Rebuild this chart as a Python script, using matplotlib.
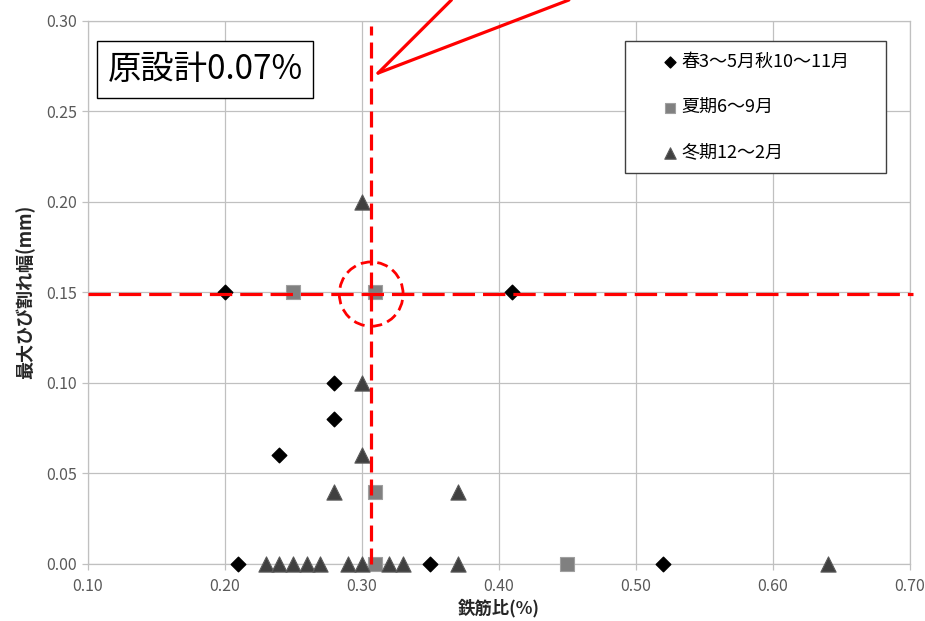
import matplotlib
matplotlib.use("Agg")
import matplotlib.pyplot as plt
from matplotlib.patches import Ellipse, Rectangle
from matplotlib.ticker import FormatStrFormatter

plt.rcParams['font.family'] = ['Noto Sans CJK JP', 'DejaVu Sans']

# 春3～5月秋10～11月
haru_aki_x = [0.20, 0.41, 0.28, 0.28, 0.24, 0.21, 0.35, 0.52]
haru_aki_y = [0.15, 0.15, 0.10, 0.08, 0.06, 0.00, 0.00, 0.00]
# 夏期6～9月
natsu_x = [0.25, 0.31, 0.31, 0.31, 0.45]
natsu_y = [0.15, 0.15, 0.04, 0.00, 0.00]
# 冬期12～2月
fuyu_x = [0.30, 0.30, 0.30, 0.28, 0.37, 0.23, 0.24, 0.25, 0.26, 0.27,
          0.29, 0.30, 0.32, 0.33, 0.37, 0.64]
fuyu_y = [0.20, 0.10, 0.06, 0.04, 0.04, 0.00, 0.00, 0.00, 0.00, 0.00,
          0.00, 0.00, 0.00, 0.00, 0.00, 0.00]

labels = ['春3～5月秋10～11月', '夏期6～9月', '冬期12～2月']

# 基準線
ref_x = 0.307
ref_y = 0.149

grid_c = '#c0c0c0'
tick_c = '#595959'

fig = plt.figure(figsize=(9.25, 6.21), dpi=100)
ax = fig.add_axes([0.0946, 0.0918, 0.889, 0.8751])

ax.scatter(haru_aki_x, haru_aki_y, marker='D', s=55, color='black', zorder=4,
           clip_on=False, label=labels[0])
ax.scatter(natsu_x, natsu_y, marker='s', s=90, color='#808080', edgecolors='#a0a0a0',
           linewidths=0.8, zorder=4, clip_on=False, label=labels[1])
ax.scatter(fuyu_x, fuyu_y, marker='^', s=120, color='#404040', edgecolors='#5a5a5a',
           linewidths=0.8, zorder=5, clip_on=False, label=labels[2])

ax.set_xlim(0.10, 0.70)
ax.set_ylim(0.00, 0.30)
ax.set_xticks([0.10, 0.20, 0.30, 0.40, 0.50, 0.60, 0.70])
ax.set_yticks([0.00, 0.05, 0.10, 0.15, 0.20, 0.25, 0.30])
ax.xaxis.set_major_formatter(FormatStrFormatter('%.2f'))
ax.yaxis.set_major_formatter(FormatStrFormatter('%.2f'))
ax.grid(True, color=grid_c, linewidth=0.9, zorder=0)
ax.set_axisbelow(True)
for s in ax.spines.values():
    s.set_color(grid_c)
    s.set_linewidth(0.9)
ax.tick_params(axis='both', colors=grid_c, labelcolor=tick_c, labelsize=11.5, length=4, width=0.9)
ax.tick_params(axis='x', pad=6)

ax.set_xlabel('鉄筋比(%)', fontsize=12.5, fontweight='bold', color='#262626', labelpad=3)
ax.set_ylabel('最大ひび割れ幅(mm)', fontsize=13, fontweight='bold', color='#262626', labelpad=8)

# 赤い破線
ax.plot([ref_x, ref_x], [0.0, 0.297], color='red', lw=2.3, dashes=(5, 2.2), zorder=6, clip_on=False)
ax.plot([0.10, 0.702], [ref_y, ref_y], color='red', lw=2.3, dashes=(7, 2.5), zorder=6, clip_on=False)
ax.add_patch(Ellipse((ref_x, ref_y), 0.0465, 0.0355, fill=False, edgecolor='red',
                     lw=2.0, linestyle=(0, (4, 2)), zorder=6))

# 吹き出し
tip = (0.312, 0.271)
for fx in [0.488, 0.615]:
    ax.annotate('', xy=tip, xycoords='data', xytext=(fx, 1.0), textcoords='figure fraction',
                arrowprops=dict(arrowstyle='-', color='red', lw=2.3, shrinkA=0, shrinkB=0),
                annotation_clip=False, zorder=7)

ax.text(0.143, 0.91, '原設計0.07%', transform=ax.transAxes, fontsize=24,
        ha='center', va='center', zorder=8,
        bbox=dict(boxstyle='square,pad=0.32', facecolor='white', edgecolor='black', linewidth=1.0))

# 凡例
ax.add_patch(Rectangle((0.6535, 0.719), 0.317, 0.244, transform=ax.transAxes,
                       facecolor='white', edgecolor='#404040', linewidth=1.0, zorder=8))
leg = ax.legend(loc='upper left', bbox_to_anchor=(0.697, 0.94), frameon=False,
                fontsize=13, handlelength=1.0, handletextpad=0.15, labelspacing=1.5,
                borderpad=0, borderaxespad=0, markerscale=0.75)
leg.set_zorder(9)

fig.savefig('out.png', dpi=100)
